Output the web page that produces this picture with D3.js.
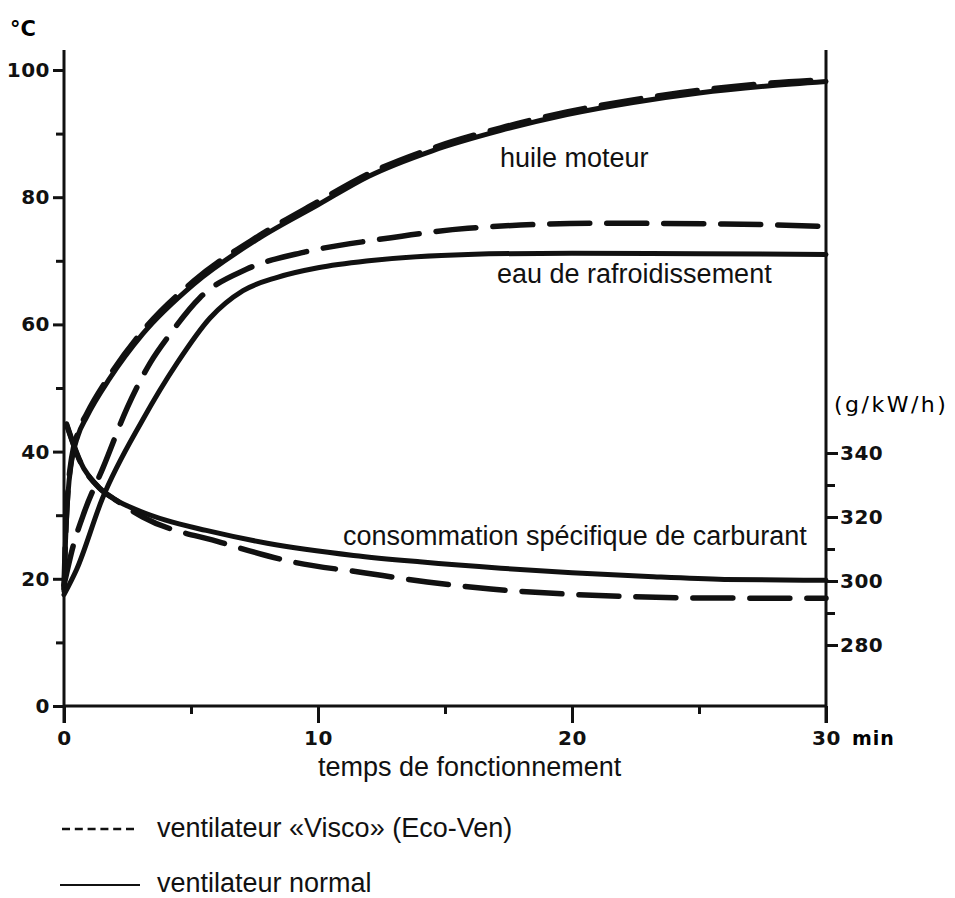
<!DOCTYPE html>
<html>
<head>
<meta charset="utf-8">
<script src="https://cdn.jsdelivr.net/npm/d3@7"></script>
<style>
  body { margin: 0; background: #fff; }
  svg { display: block; }
</style>
</head>
<body>
<div id="chart"></div>
<script>
// valeurs : [minutes, valeur]
const oilNormal = [[0,18],[0.06,26],[0.15,33],[0.3,38.5],[0.55,42.5],[0.9,45.5],[1.8,51.5],[3.1,58.5],[5.1,66.3],[7.7,73.6],[10,78.8],[12,83.3],[14.5,87.3],[17.2,90.5],[19.8,93],[22.4,94.9],[25,96.4],[27.7,97.5],[30,98.2]];
const oilVisco = [[0,18.5],[0.06,26.5],[0.15,33.5],[0.3,39],[0.55,43],[0.9,46],[1.8,52],[3.1,59],[5.1,66.8],[7.7,74],[10,79.3],[12,83.7],[14.5,87.7],[17.2,90.9],[19.8,93.4],[22.4,95.3],[25,96.8],[27.7,97.9],[30,98.5]];
const waterNormal = [[0,17.5],[0.5,21.5],[1.5,32.5],[3.1,45],[4.45,53.9],[5.75,61],[7.05,65.3],[8.4,67.4],[10,68.9],[12,70],[15.9,71],[20,71.2],[25,71.1],[30,71]];
const waterVisco = [[0,19],[0.35,25],[0.8,30.5],[1.55,37.6],[2.5,47],[3.4,54],[4.2,58.6],[5.35,64.2],[7.2,68.7],[9.5,71.4],[12.3,73.3],[15.9,75.1],[21,75.9],[26,75.8],[30,75.4]];
// consommation spécifique (g/kW/h), axe de droite
const consNormal = [[0.1,349],[0.6,338],[1.4,329],[2,325.5],[3,321.8],[4,319],[5.6,315.8],[8,311.8],[11.4,308],[14,306],[17.2,304],[20,302.6],[23,301.4],[26,300.5],[30,300.2]];
const consVisco = [[0.1,349],[0.6,338],[1.4,329],[2,325.5],[3.1,320],[6.2,312],[9.1,305.8],[11.8,302.6],[14.3,299.7],[16.8,297.5],[19.6,296],[22.1,295.2],[25,294.7],[30,294.6]];

const xMajor = [0, 10, 20, 30];
const xMinor = [5, 15, 25];
const tMajor = [0, 20, 40, 60, 80, 100];
const tMinor = [10, 30, 50, 70, 90];
const cMajor = [280, 300, 320, 340];
const cMinor = [290, 310, 330];

const width = 955;
const height = 898;
const numFont = '"DejaVu Sans", sans-serif';
const textFont = '"Liberation Sans", Arial, Helvetica, sans-serif';

const x = d3.scaleLinear().domain([0, 30]).range([64, 826]);
const yT = d3.scaleLinear().domain([0, 100]).range([706, 70]);
const yC = d3.scaleLinear().domain([280, 340]).range([645, 453]);

const svg = d3.select('#chart').append('svg')
  .attr('width', width)
  .attr('height', height)
  .attr('viewBox', [0, 0, width, height]);

// cadre : axes verticaux et horizontal
const frame = svg.append('g').attr('stroke', '#111').attr('stroke-width', 3).attr('fill', 'none');
frame.append('line').attr('x1', x(0)).attr('x2', x(0)).attr('y1', 50).attr('y2', 723);
frame.append('line').attr('x1', x(30)).attr('x2', x(30)).attr('y1', 50).attr('y2', 723);
frame.append('line').attr('x1', x(0)).attr('x2', x(30)).attr('y1', yT(0)).attr('y2', yT(0));

function styleAxis(g) {
  g.select('.domain').remove();
  g.selectAll('.tick line').attr('stroke', '#111').attr('stroke-width', 3);
  g.selectAll('.tick text')
    .attr('fill', '#111')
    .style('font-family', numFont)
    .style('font-weight', 'bold')
    .style('font-size', '20px')
    .style('letter-spacing', '0.5px');
}

// axe gauche (°C)
svg.append('g').attr('transform', `translate(${x(0)},0)`)
  .call(d3.axisLeft(yT).tickValues(tMinor).tickSize(8).tickFormat(''))
  .call(styleAxis);
svg.append('g').attr('transform', `translate(${x(0)},0)`)
  .call(d3.axisLeft(yT).tickValues(tMajor).tickSize(11).tickPadding(3).tickFormat(d3.format('d')))
  .call(styleAxis);

// axe du bas (min)
svg.append('g').attr('transform', `translate(0,${yT(0)})`)
  .call(d3.axisBottom(x).tickValues(xMinor).tickSize(8).tickFormat(''))
  .call(styleAxis);
svg.append('g').attr('transform', `translate(0,${yT(0)})`)
  .call(d3.axisBottom(x).tickValues(xMajor).tickSize(17).tickPadding(8).tickFormat(d3.format('d')))
  .call(styleAxis);

// axe droit (g/kW/h)
svg.append('g').attr('transform', `translate(${x(30)},0)`)
  .call(d3.axisRight(yC).tickValues(cMinor).tickSize(9).tickFormat(''))
  .call(styleAxis);
svg.append('g').attr('transform', `translate(${x(30)},0)`)
  .call(d3.axisRight(yC).tickValues(cMajor).tickSize(12).tickPadding(2).tickFormat(d3.format('d')))
  .call(styleAxis);

// unités
svg.append('text').attr('x', 10).attr('y', 36).text('°C')
  .style('font-family', numFont).style('font-weight', 'bold').style('font-size', '21px');
svg.append('text').attr('x', 852).attr('y', 745).text('min')
  .style('font-family', numFont).style('font-weight', 'bold').style('font-size', '19px').style('letter-spacing', '1px');
svg.append('text').attr('x', 834).attr('y', 412).text('(g/kW/h)')
  .style('font-family', numFont).style('font-size', '22px').style('letter-spacing', '2.5px');

// courbes
const lineT = d3.line().x(d => x(d[0])).y(d => yT(d[1])).curve(d3.curveMonotoneX);
const lineC = d3.line().x(d => x(d[0])).y(d => yC(d[1])).curve(d3.curveMonotoneX);

const curves = [
  { data: oilVisco, line: lineT, dashed: true },
  { data: oilNormal, line: lineT, dashed: false },
  { data: waterVisco, line: lineT, dashed: true },
  { data: waterNormal, line: lineT, dashed: false },
  { data: consVisco, line: lineC, dashed: true },
  { data: consNormal, line: lineC, dashed: false }
];

svg.append('g').selectAll('path')
  .data(curves)
  .join('path')
  .attr('d', d => d.line(d.data))
  .attr('fill', 'none')
  .attr('stroke', '#111')
  .attr('stroke-width', d => d.dashed ? 5.5 : 5)
  .attr('stroke-linecap', 'round')
  .attr('stroke-linejoin', 'round')
  .attr('stroke-dasharray', d => d.dashed ? '40,17' : null);

// étiquettes des courbes
const labels = [
  { text: 'huile moteur', x: 500, y: 167 },
  { text: 'eau de rafroidissement', x: 497, y: 283 },
  { text: 'consommation spécifique de carburant', x: 343, y: 545 },
  { text: 'temps de fonctionnement', x: 318, y: 776 }
];
svg.append('g').selectAll('text')
  .data(labels)
  .join('text')
  .attr('x', d => d.x)
  .attr('y', d => d.y)
  .text(d => d.text)
  .attr('fill', '#111')
  .style('font-family', textFont)
  .style('font-size', '27px');

// légende
const legend = svg.append('g');
legend.append('line').attr('x1', 62).attr('x2', 134).attr('y1', 829).attr('y2', 829)
  .attr('stroke', '#111').attr('stroke-width', 2.5).attr('stroke-dasharray', '8,4.8');
legend.append('line').attr('x1', 60).attr('x2', 140).attr('y1', 885).attr('y2', 885)
  .attr('stroke', '#111').attr('stroke-width', 2);
legend.append('text').attr('x', 157).attr('y', 837).text('ventilateur «Visco» (Eco-Ven)')
  .attr('fill', '#111').style('font-family', textFont).style('font-size', '27px');
legend.append('text').attr('x', 157).attr('y', 892).text('ventilateur normal')
  .attr('fill', '#111').style('font-family', textFont).style('font-size', '27px');
</script>
</body>
</html>
